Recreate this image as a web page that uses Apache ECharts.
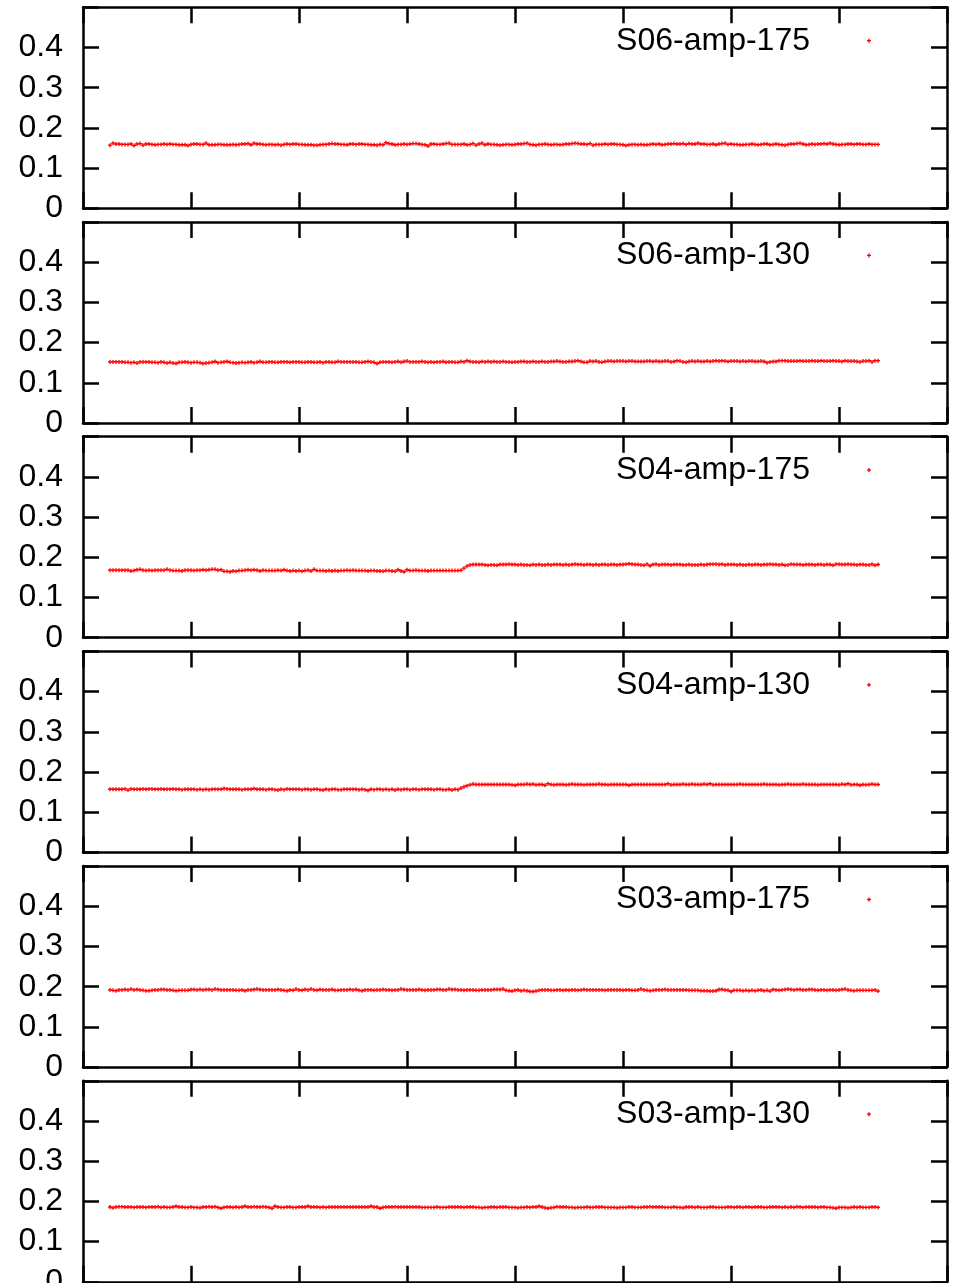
<!DOCTYPE html>
<html>
<head>
<meta charset="utf-8">
<script src="https://cdn.jsdelivr.net/npm/echarts@6/dist/echarts.min.js"></script>
<style>
html,body{margin:0;padding:0;background:#fff;}
#chart{width:972px;height:1283px;}
</style>
</head>
<body>
<div id="chart"></div>
<script>
// Panel names (legend texts), top to bottom
const seriesNames = ['S06-amp-175','S06-amp-130','S04-amp-175','S04-amp-130','S03-amp-175','S03-amp-130'];
// x axis (sample number) range and tick interval; the data starts at sample 9
const xMin = 0, xMax = 288, xInterval = 36;
const firstSample = 9;
// y axis
const yMin = 0, yMax = 0.5, yInterval = 0.1;
const yTickLabels = ['0','0.1','0.2','0.3','0.4'];

const s06amp175 = [
.157,.162,.160,.160,.159,.159,.159,.160,.156,.160,
.161,.157,.160,.160,.159,.158,.159,.159,.160,.159,
.160,.159,.159,.158,.158,.158,.156,.159,.160,.160,
.159,.159,.162,.158,.158,.158,.159,.159,.158,.158,
.158,.159,.158,.159,.160,.160,.161,.158,.162,.160,
.160,.159,.158,.159,.159,.158,.159,.157,.159,.160,
.159,.160,.160,.159,.159,.158,.158,.158,.157,.157,
.158,.159,.159,.160,.161,.160,.160,.159,.159,.158,
.160,.160,.159,.160,.160,.159,.159,.158,.158,.157,
.159,.158,.163,.161,.160,.158,.159,.159,.160,.159,
.160,.161,.161,.160,.159,.158,.155,.160,.160,.159,
.159,.160,.161,.162,.159,.159,.159,.159,.160,.158,
.159,.161,.157,.160,.162,.158,.160,.159,.159,.158,
.157,.158,.159,.159,.158,.159,.160,.160,.161,.162,
.159,.158,.157,.159,.159,.160,.159,.158,.159,.159,
.158,.159,.160,.160,.161,.162,.161,.160,.160,.159,
.161,.157,.159,.159,.159,.160,.159,.160,.160,.159,
.159,.158,.156,.158,.159,.159,.158,.159,.158,.158,
.159,.160,.159,.160,.158,.159,.160,.160,.161,.160,
.160,.161,.159,.161,.160,.160,.162,.160,.160,.159,
.159,.160,.158,.160,.161,.162,.159,.160,.159,.159,
.158,.158,.159,.159,.160,.159,.158,.159,.160,.160,
.158,.159,.160,.159,.158,.157,.159,.160,.160,.161,
.162,.160,.158,.159,.160,.159,.160,.160,.161,.160,
.162,.160,.159,.158,.159,.159,.160,.160,.159,.160,
.160,.159,.159,.160,.159,.159,.159];

const s06amp130 = [
.152,.152,.152,.152,.152,.151,.151,.150,.151,.149,
.152,.152,.152,.152,.151,.151,.150,.152,.151,.149,
.151,.149,.148,.151,.151,.152,.151,.150,.151,.151,
.150,.148,.149,.150,.151,.153,.150,.151,.152,.153,
.151,.150,.149,.150,.151,.150,.151,.152,.150,.151,
.153,.151,.151,.152,.152,.151,.151,.152,.152,.152,
.151,.152,.152,.152,.151,.151,.152,.152,.151,.151,
.152,.150,.152,.152,.151,.151,.153,.152,.152,.152,
.152,.152,.152,.151,.151,.152,.153,.152,.151,.148,
.151,.152,.152,.152,.151,.152,.153,.151,.153,.154,
.152,.152,.152,.152,.153,.152,.151,.152,.151,.152,
.152,.153,.151,.152,.152,.151,.151,.153,.152,.155,
.153,.152,.152,.151,.153,.152,.153,.152,.153,.152,
.152,.153,.152,.152,.151,.152,.152,.153,.153,.152,
.152,.153,.152,.152,.153,.152,.152,.153,.153,.154,
.153,.152,.152,.153,.153,.154,.155,.153,.151,.151,
.154,.153,.154,.152,.151,.153,.154,.154,.153,.154,
.154,.154,.153,.154,.154,.153,.153,.153,.153,.154,
.154,.153,.154,.153,.153,.154,.154,.152,.153,.155,
.154,.152,.151,.153,.154,.153,.154,.153,.153,.154,
.153,.154,.155,.154,.155,.154,.153,.154,.154,.154,
.153,.154,.153,.154,.154,.153,.153,.154,.153,.150,
.152,.153,.153,.155,.155,.155,.154,.154,.154,.154,
.155,.154,.154,.154,.155,.154,.154,.155,.154,.154,
.154,.155,.154,.154,.153,.155,.154,.154,.154,.153,
.152,.154,.154,.155,.152,.155,.155];

const s04amp175 = [
.168,.168,.168,.168,.168,.168,.168,.166,.167,.169,
.170,.168,.167,.168,.167,.168,.168,.168,.168,.170,
.168,.167,.167,.167,.166,.168,.168,.168,.167,.168,
.168,.169,.168,.169,.170,.170,.168,.169,.165,.165,
.164,.166,.165,.167,.167,.168,.169,.168,.169,.168,
.166,.168,.167,.167,.167,.167,.168,.167,.169,.167,
.166,.167,.166,.167,.165,.167,.168,.166,.170,.167,
.167,.167,.166,.167,.166,.167,.166,.167,.167,.168,
.167,.168,.167,.167,.167,.167,.166,.167,.167,.166,
.166,.165,.167,.167,.166,.165,.169,.166,.164,.169,
.167,.167,.168,.167,.167,.167,.166,.167,.167,.167,
.167,.167,.167,.167,.167,.167,.167,.168,.173,.178,
.181,.182,.182,.182,.182,.181,.180,.181,.181,.180,
.182,.182,.182,.183,.182,.182,.181,.182,.181,.181,
.180,.182,.181,.182,.181,.181,.182,.181,.182,.182,
.182,.181,.182,.181,.182,.183,.182,.182,.181,.182,
.182,.181,.182,.181,.182,.182,.181,.182,.182,.181,
.182,.182,.183,.184,.183,.182,.182,.181,.180,.183,
.179,.182,.183,.181,.182,.182,.182,.181,.182,.182,
.182,.181,.181,.182,.181,.181,.181,.182,.181,.182,
.183,.183,.183,.182,.183,.181,.182,.182,.182,.181,
.182,.181,.181,.182,.181,.182,.182,.181,.182,.182,
.183,.182,.182,.181,.182,.180,.181,.183,.182,.182,
.182,.181,.182,.182,.182,.181,.182,.182,.181,.182,
.182,.180,.183,.183,.182,.182,.183,.182,.182,.181,
.182,.182,.181,.181,.183,.180,.182];

const s04amp130 = [
.157,.157,.157,.157,.157,.158,.155,.158,.157,.157,
.157,.158,.157,.158,.158,.157,.157,.158,.157,.157,
.157,.158,.157,.157,.156,.157,.157,.157,.157,.156,
.157,.156,.157,.156,.157,.157,.157,.157,.159,.158,
.157,.157,.157,.157,.156,.157,.157,.157,.159,.157,
.157,.157,.156,.157,.157,.156,.155,.157,.156,.158,
.157,.157,.157,.157,.156,.157,.157,.156,.157,.157,
.156,.155,.157,.156,.157,.157,.156,.156,.157,.157,
.157,.157,.157,.156,.157,.156,.154,.157,.156,.157,
.157,.156,.157,.156,.157,.155,.157,.156,.157,.157,
.156,.157,.157,.156,.157,.157,.157,.157,.156,.157,
.157,.156,.156,.157,.155,.157,.156,.160,.163,.166,
.168,.170,.169,.169,.169,.169,.169,.169,.169,.169,
.169,.169,.169,.169,.168,.167,.169,.169,.169,.170,
.169,.170,.168,.169,.169,.167,.171,.169,.168,.169,
.169,.169,.168,.169,.170,.169,.169,.169,.168,.169,
.169,.169,.169,.170,.169,.169,.168,.169,.169,.169,
.169,.169,.169,.167,.169,.169,.169,.169,.169,.169,
.169,.169,.169,.169,.169,.169,.171,.168,.169,.169,
.169,.170,.169,.169,.170,.169,.169,.169,.170,.169,
.171,.168,.169,.169,.169,.169,.169,.169,.169,.169,
.170,.169,.169,.169,.169,.169,.169,.169,.170,.169,
.169,.169,.169,.168,.169,.169,.170,.169,.169,.169,
.169,.170,.169,.169,.169,.169,.168,.169,.169,.169,
.169,.169,.169,.168,.170,.169,.171,.168,.169,.169,
.167,.169,.168,.169,.170,.169,.169];

const s03amp175 = [
.192,.191,.190,.192,.192,.193,.192,.194,.192,.193,
.192,.191,.190,.190,.191,.192,.192,.193,.193,.192,
.192,.191,.190,.191,.191,.191,.191,.193,.193,.192,
.193,.192,.193,.193,.192,.194,.193,.192,.192,.192,
.192,.192,.191,.191,.192,.190,.192,.192,.193,.194,
.193,.192,.192,.192,.192,.192,.193,.192,.191,.190,
.192,.191,.194,.192,.191,.193,.192,.194,.192,.191,
.193,.192,.192,.192,.193,.191,.191,.192,.192,.192,
.193,.192,.193,.191,.190,.192,.192,.192,.191,.192,
.192,.193,.192,.192,.191,.192,.192,.194,.193,.192,
.192,.192,.192,.193,.192,.191,.192,.192,.192,.193,
.193,.192,.192,.194,.193,.193,.192,.192,.191,.192,
.192,.192,.191,.191,.192,.192,.192,.192,.193,.193,
.193,.194,.191,.190,.189,.191,.192,.190,.191,.190,
.188,.188,.189,.191,.192,.192,.192,.191,.191,.192,
.192,.191,.192,.191,.192,.192,.191,.192,.193,.192,
.192,.192,.192,.192,.192,.191,.192,.192,.192,.192,
.192,.191,.192,.192,.191,.191,.192,.194,.192,.191,
.190,.191,.192,.192,.192,.193,.192,.192,.192,.192,
.192,.192,.192,.191,.191,.191,.191,.190,.190,.190,
.189,.189,.190,.193,.193,.192,.191,.188,.191,.191,
.191,.190,.191,.190,.191,.190,.191,.192,.190,.191,
.189,.193,.192,.191,.192,.193,.194,.193,.192,.193,
.193,.192,.192,.193,.193,.192,.191,.192,.192,.191,
.192,.192,.191,.192,.193,.194,.192,.191,.190,.191,
.191,.191,.191,.191,.191,.192,.189];

const s03amp130 = [
.186,.184,.186,.187,.187,.186,.186,.186,.185,.186,
.186,.186,.185,.186,.186,.186,.187,.185,.186,.185,
.185,.186,.188,.186,.186,.185,.185,.186,.185,.185,
.184,.186,.186,.187,.186,.187,.185,.183,.185,.186,
.186,.185,.186,.185,.186,.188,.186,.186,.187,.186,
.186,.187,.186,.185,.183,.188,.186,.185,.185,.186,
.186,.185,.185,.186,.186,.186,.188,.186,.186,.186,
.185,.186,.185,.186,.186,.186,.186,.186,.186,.186,
.186,.186,.186,.186,.186,.186,.186,.188,.186,.186,
.183,.185,.186,.186,.186,.187,.186,.186,.186,.186,
.186,.186,.186,.186,.185,.185,.185,.185,.185,.186,
.185,.185,.185,.186,.186,.186,.186,.186,.185,.186,
.186,.186,.185,.185,.184,.185,.185,.186,.186,.185,
.186,.186,.186,.185,.185,.185,.184,.185,.185,.186,
.185,.186,.186,.188,.186,.184,.183,.184,.185,.187,
.186,.186,.186,.185,.185,.184,.185,.185,.185,.186,
.185,.185,.186,.186,.186,.185,.185,.185,.185,.184,
.185,.185,.185,.186,.186,.185,.185,.185,.186,.186,
.187,.186,.186,.186,.186,.185,.185,.185,.186,.185,
.185,.184,.186,.186,.186,.185,.186,.185,.185,.185,
.186,.186,.185,.185,.185,.185,.186,.186,.185,.186,
.186,.185,.186,.186,.185,.186,.186,.186,.185,.185,
.186,.186,.186,.186,.185,.186,.185,.186,.185,.187,
.186,.185,.186,.186,.186,.186,.185,.186,.186,.185,
.185,.184,.183,.185,.185,.185,.184,.185,.186,.185,
.186,.185,.185,.185,.186,.186,.185];

const panelValues = [s06amp175, s06amp130, s04amp175, s04amp130, s03amp175, s03amp130];

// ---- layout ----
const FONT = "'Liberation Sans', Arial, Helvetica, sans-serif";
const plotLeft = 83, plotWidth = 864, plotHeight = 201;
const firstTop = 7.3, panelStep = 214.7;
const AXW = 2.5;
const plusSymbol = 'path://M1,0H2V1H3V2H2V3H1V2H0V1H1Z';

const grids = [], xAxes = [], yAxes = [], series = [], legends = [];
panelValues.forEach((vals, i) => {
  const top = firstTop + i * panelStep;
  grids.push({left: plotLeft, top: top, width: plotWidth, height: plotHeight,
    containLabel: false, outerBoundsMode: 'none'});
  const axisLine = {show: true, onZero: false, lineStyle: {color: '#000', width: AXW}};
  const tick = {show: true, inside: true, length: 16, lineStyle: {color: '#000', width: AXW}};
  ['bottom', 'top'].forEach(pos => {
    xAxes.push({type: 'value', gridIndex: i, position: pos, min: xMin, max: xMax, interval: xInterval,
      axisLine: axisLine, axisTick: tick, axisLabel: {show: false}, splitLine: {show: false}});
  });
  ['left', 'right'].forEach(pos => {
    yAxes.push({type: 'value', gridIndex: i, position: pos, min: yMin, max: yMax, interval: yInterval,
      axisLine: axisLine, axisTick: tick, splitLine: {show: false},
      axisLabel: pos === 'left' ? {show: true, color: '#000', fontSize: 32, fontFamily: FONT, margin: 20,
        hideOverlap: false, padding: [4, 0, 0, 0],
        formatter: v => { const k = Math.round(v / yInterval); return k < yTickLabels.length ? yTickLabels[k] : ''; }}
        : {show: false}});
  });
  series.push({
    type: 'scatter', name: seriesNames[i], xAxisIndex: 2 * i, yAxisIndex: 2 * i,
    data: vals.map((v, j) => [firstSample + j, v]),
    symbol: plusSymbol, symbolSize: 4, itemStyle: {color: '#ff0000', opacity: 1},
    silent: true, animation: false
  });
  legends.push({
    data: [seriesNames[i]], right: 101, top: top + 17.4, align: 'right', orient: 'horizontal',
    itemWidth: 4, itemHeight: 4, padding: 0, selectedMode: false,
    textStyle: {fontSize: 32, fontFamily: FONT, color: '#000', padding: [0, 52, 0, 0]}
  });
});

const chart = echarts.init(document.getElementById('chart'), null, {renderer: 'canvas'});
chart.setOption({
  animation: false,
  backgroundColor: '#fff',
  grid: grids, xAxis: xAxes, yAxis: yAxes, series: series, legend: legends
});
</script>
</body>
</html>
